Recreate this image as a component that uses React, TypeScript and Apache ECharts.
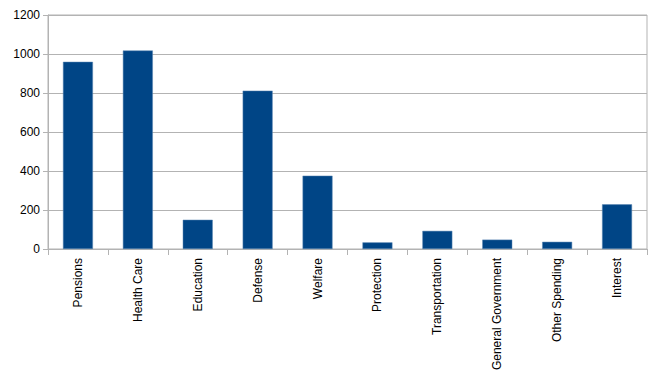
import React, { useEffect, useRef } from "react";
import * as echarts from "echarts";

const categories = [
  "Pensions",
  "Health Care",
  "Education",
  "Defense",
  "Welfare",
  "Protection",
  "Transportation",
  "General Government",
  "Other Spending",
  "Interest",
];
const values = [960, 1018, 150, 812, 376, 34, 93, 48, 37, 229];
const yTicks = { min: 0, max: 1200, interval: 200 };

export default function App() {
  const ref = useRef<HTMLDivElement>(null);
  useEffect(() => {
    const chart = echarts.init(ref.current!, null, { renderer: "svg" });
    chart.setOption({
      animation: false,
      grid: {
        left: 48,
        right: 13,
        top: 15,
        bottom: 125,
        show: true,
        borderColor: "#b3b3b3",
        borderWidth: 1,
      },
      xAxis: {
        type: "category",
        data: categories,
        axisLine: { lineStyle: { color: "#b3b3b3" } },
        axisTick: { show: true, length: 6, lineStyle: { color: "#b3b3b3" } },
        axisLabel: {
          rotate: 90,
          margin: 9,
          color: "#000",
          fontFamily: "Liberation Sans",
          fontSize: 12,
          interval: 0,
        },
      },
      yAxis: {
        type: "value",
        min: yTicks.min,
        max: yTicks.max,
        interval: yTicks.interval,
        axisLine: { show: true, lineStyle: { color: "#b3b3b3" } },
        axisTick: { show: true, length: 5, lineStyle: { color: "#b3b3b3" } },
        splitLine: { lineStyle: { color: "#b3b3b3" } },
        axisLabel: {
          margin: 8,
          color: "#000",
          fontFamily: "Liberation Sans",
          fontSize: 12,
          formatter: (v: number) => String(v),
        },
      },
      series: [
        {
          type: "bar",
          data: values,
          barWidth: "50%",
          itemStyle: {
            color: "#004586",
            borderColor: "#5a86b3",
            borderWidth: 0.5,
          },
        },
      ],
    });
    return () => chart.dispose();
  }, []);
  return <div ref={ref} style={{ width: 660, height: 374, position: "absolute", left: 0, top: 0 }} />;
}
